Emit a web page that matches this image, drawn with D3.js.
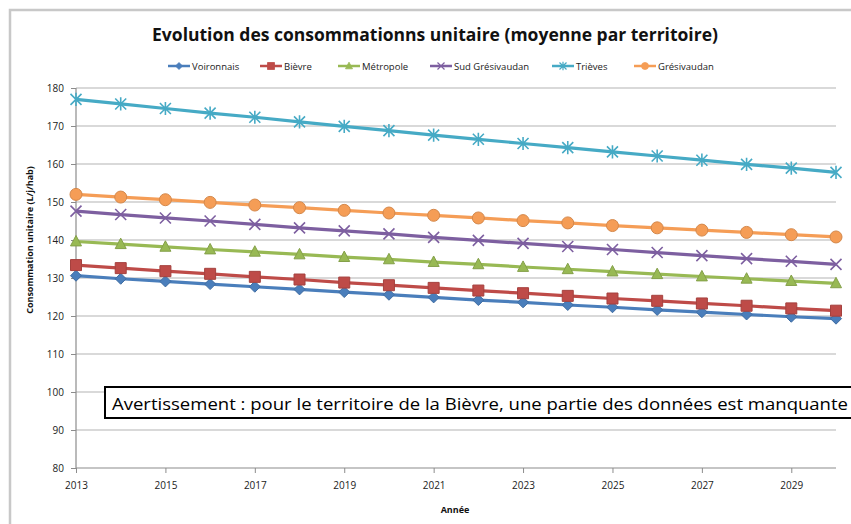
<!DOCTYPE html>
<html>
<head>
<meta charset="utf-8">
<script src="https://cdn.jsdelivr.net/npm/d3@7"></script>
<style>
  body { margin: 0; background: #fff; }
  svg { display: block; font-family: "Open Sans", "Liberation Sans", sans-serif; }
</style>
</head>
<body>
<div id="chart-area"></div>
<script>
const WIDTH = 851;
const HEIGHT = 524;

// data
const years = d3.range(2013, 2031);
const tickYears = [2013, 2015, 2017, 2019, 2021, 2023, 2025, 2027, 2029];
const yTicks = [80, 90, 100, 110, 120, 130, 140, 150, 160, 170, 180];

const voironnais = [130.6, 129.8, 129.1, 128.4, 127.7, 127.0, 126.3, 125.6, 124.9, 124.2, 123.6, 122.9, 122.3, 121.6, 121.0, 120.4, 119.8, 119.3];
const bievre = [133.4, 132.6, 131.8, 131.1, 130.3, 129.6, 128.8, 128.1, 127.4, 126.7, 126.0, 125.3, 124.6, 124.0, 123.3, 122.7, 122.0, 121.4];
const metropole = [139.6, 138.9, 138.2, 137.5, 136.9, 136.2, 135.5, 134.9, 134.2, 133.6, 132.9, 132.3, 131.7, 131.0, 130.4, 129.8, 129.2, 128.6];
const sudGresivaudan = [147.6, 146.7, 145.8, 145.0, 144.1, 143.2, 142.4, 141.6, 140.7, 139.9, 139.1, 138.3, 137.5, 136.7, 135.9, 135.1, 134.4, 133.6];
const trieves = [177.0, 175.8, 174.6, 173.4, 172.3, 171.1, 169.9, 168.8, 167.6, 166.5, 165.4, 164.3, 163.2, 162.1, 161.0, 159.9, 158.9, 157.8];
const gresivaudan = [152.0, 151.3, 150.6, 149.9, 149.2, 148.5, 147.8, 147.1, 146.5, 145.8, 145.1, 144.5, 143.8, 143.2, 142.6, 142.0, 141.4, 140.8];

const seriesNames = ["Voironnais", "Bièvre", "Métropole", "Sud Grésivaudan", "Trièves", "Grésivaudan"];
const seriesValues = [voironnais, bievre, metropole, sudGresivaudan, trieves, gresivaudan];
const seriesColors = ["#4a7ebb", "#be4b48", "#98b954", "#7d5fa0", "#46aac5", "#f59d56"];
const seriesMarkers = ["diamond", "square", "triangle", "x", "star", "circle"];

const margin = { left: 76, right: 15, top: 88, bottom: 56 };
const innerW = WIDTH - margin.left - margin.right;
const innerH = HEIGHT - margin.top - margin.bottom;

const svg = d3.select("#chart-area").append("svg").attr("width", WIDTH).attr("height", HEIGHT);

// outer frame
svg.append("rect").attr("x", 10).attr("y", 10).attr("width", WIDTH + 20).attr("height", HEIGHT + 20)
    .attr("fill", "none").attr("stroke", "#c8c8c8").attr("stroke-width", 2.5);

svg.append("text").attr("x", 435).attr("y", 41).attr("text-anchor", "middle")
    .attr("font-size", "17.5px").attr("font-weight", "bold").style("fill", "#111")
    .text("Evolution des consommationns unitaire (moyenne par territoire)");

const group = svg.append("g").attr("transform", `translate(${margin.left},${margin.top})`);

const x = d3.scaleLinear().domain([2013, 2030]).range([0, innerW]);
const y = d3.scaleLinear().domain([80, 180]).range([innerH, 0]);

// gridlines
group.append("g").selectAll("line").data(yTicks.slice(1)).enter().append("line")
    .attr("x1", 0).attr("x2", innerW)
    .attr("y1", d => y(d)).attr("y2", d => y(d))
    .attr("stroke", "#b4b4b4").attr("stroke-width", 1.2);

const yAxis = group.append("g").call(d3.axisLeft(y).tickValues(yTicks).tickSize(5).tickPadding(7));
const xAxis = group.append("g").attr("transform", `translate(0,${innerH})`)
    .call(d3.axisBottom(x).tickValues(tickYears).tickFormat(d3.format("d")).tickSize(5).tickPadding(9));

[yAxis, xAxis].forEach(a => {
    a.select(".domain").attr("stroke", "#8c8c8c").attr("stroke-width", 1.2);
    a.selectAll(".tick line").attr("stroke", "#8c8c8c");
    a.selectAll(".tick text").attr("font-size", "10px").style("fill", "#222")
        .style("font-family", "'Open Sans', sans-serif");
});
xAxis.select(".domain").attr("d", `M0,0H${innerW}`);
yAxis.select(".domain").attr("d", `M0,${innerH}V0`);

// axis labels
group.append("text").attr("transform", "rotate(-90)")
    .attr("x", -(y(140))).attr("y", -43).attr("text-anchor", "middle")
    .attr("font-size", "9px").attr("font-weight", "bold").style("fill", "#111")
    .text("Consommation unitaire (L/j/hab)");

group.append("text").attr("x", 379).attr("y", innerH + 45).attr("text-anchor", "middle")
    .attr("font-size", "9px").attr("font-weight", "bold").style("fill", "#111")
    .text("Année");

function markerPath(type, size) {
    const s = size;
    switch (type) {
        case "diamond": return `M0,${-s}L${s},0L0,${s}L${-s},0Z`;
        case "square": return `M${-s},${-s}H${s}V${s}H${-s}Z`;
        case "triangle": return `M0,${-s * 1.1}L${s},${s * 0.8}L${-s},${s * 0.8}Z`;
        case "x": return `M${-s},${-s}L${s},${s}M${s},${-s}L${-s},${s}`;
        case "star": return `M${-s},${-s}L${s},${s}M${s},${-s}L${-s},${s}M0,${-s * 1.2}V${s * 1.2}`;
        default: return d3.symbol(d3.symbolCircle, Math.PI * s * s)();
    }
}

const line = d3.line().x((d, i) => x(years[i])).y(d => y(d));

seriesValues.forEach((vals, si) => {
    const col = seriesColors[si];
    const g = group.append("g");
    g.append("path").datum(vals).attr("d", line).attr("fill", "none")
        .attr("stroke", col).attr("stroke-width", 3.2).attr("stroke-linejoin", "round");
    const type = seriesMarkers[si];
    const open = type === "x" || type === "star";
    g.selectAll("path.mk").data(vals).enter().append("path").attr("class", "mk")
        .attr("transform", (d, i) => `translate(${x(years[i])},${y(d)})`)
        .attr("d", markerPath(type, type === "circle" ? 6 : (open ? 5.5 : 5.5)))
        .attr("fill", open ? "none" : col)
        .attr("stroke", open ? col : d3.color(col).darker(0.4))
        .attr("stroke-width", open ? 1.6 : 1);
});

// legend
const legendX = [168, 260, 338, 430, 552, 634];
const legend = svg.append("g").attr("transform", "translate(0,66)");
seriesNames.forEach((name, i) => {
    const lg = legend.append("g").attr("transform", `translate(${legendX[i]},0)`);
    lg.append("line").attr("x1", 0).attr("x2", 22).attr("stroke", seriesColors[i]).attr("stroke-width", 2.5);
    const type = seriesMarkers[i];
    const open = type === "x" || type === "star";
    lg.append("path").attr("transform", "translate(11,0)").attr("d", markerPath(type, 3.5))
        .attr("fill", open ? "none" : seriesColors[i]).attr("stroke", seriesColors[i]).attr("stroke-width", open ? 1.2 : 0.8);
    lg.append("text").attr("x", 24).attr("y", 3.5).attr("font-size", "9.5px").style("fill", "#222").text(name);
});

// warning box
svg.append("rect").attr("x", 105).attr("y", 387).attr("width", 760).attr("height", 31)
    .attr("fill", "#fff").attr("stroke", "#000").attr("stroke-width", 2);
svg.append("text").attr("x", 112).attr("y", 410).attr("font-size", "17px")
    .attr("textLength", 736).attr("lengthAdjust", "spacingAndGlyphs").style("fill", "#000")
    .text("Avertissement : pour le territoire de la Bièvre, une partie des données est manquante");
</script>
</body>
</html>
